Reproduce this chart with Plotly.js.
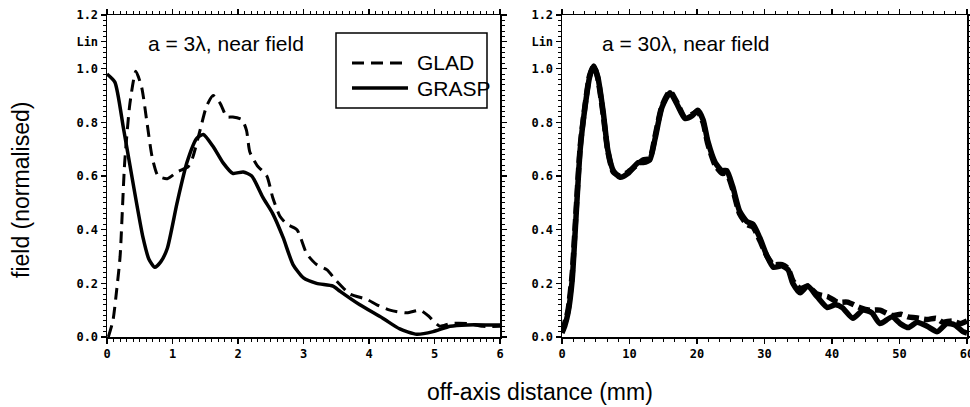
<!DOCTYPE html>
<html>
<head>
<meta charset="utf-8">
<script src="https://cdn.plot.ly/plotly-3.0.1.min.js"></script>
<style>html,body{margin:0;padding:0;background:#fff;}#chart{width:970px;height:407px;}</style>
</head>
<body>
<div id="chart"></div>
<script>
// ---- Left panel: a = 3 lambda, near field ----
const leftGraspX = [0, 0.12, 0.25, 0.40, 0.55, 0.64, 0.73, 0.82, 0.92, 1.07, 1.22, 1.37, 1.47, 1.62, 1.77, 1.92, 2.08, 2.21, 2.38, 2.53, 2.69, 2.84, 3.0, 3.2, 3.45, 3.56, 3.86, 4.21, 4.47, 4.73, 4.98, 5.24, 5.5, 5.85, 6.0];
const leftGraspY = [0.98, 0.95, 0.78, 0.57, 0.37, 0.29, 0.26, 0.28, 0.33, 0.50, 0.65, 0.74, 0.755, 0.71, 0.65, 0.61, 0.615, 0.60, 0.52, 0.46, 0.37, 0.27, 0.22, 0.20, 0.19, 0.17, 0.12, 0.07, 0.03, 0.01, 0.02, 0.04, 0.045, 0.045, 0.045];

const leftGladX = [0.02, 0.09, 0.15, 0.20, 0.27, 0.35, 0.44, 0.53, 0.61, 0.69, 0.78, 0.92, 1.07, 1.24, 1.31, 1.42, 1.52, 1.62, 1.73, 1.83, 1.92, 2.06, 2.13, 2.18, 2.29, 2.44, 2.53, 2.64, 2.75, 2.90, 3.05, 3.2, 3.36, 3.5, 3.71, 3.97, 4.12, 4.32, 4.58, 4.78, 4.90, 5.08, 5.24, 5.5, 5.74, 6.0];
const leftGladY = [0.0, 0.06, 0.18, 0.30, 0.65, 0.87, 0.99, 0.93, 0.80, 0.67, 0.60, 0.59, 0.615, 0.635, 0.67, 0.77, 0.86, 0.90, 0.87, 0.82, 0.82, 0.81, 0.77, 0.69, 0.64, 0.60, 0.52, 0.45, 0.42, 0.40, 0.31, 0.27, 0.25, 0.21, 0.16, 0.14, 0.12, 0.10, 0.09, 0.10, 0.08, 0.04, 0.05, 0.05, 0.04, 0.04];

// ---- Right panel: a = 30 lambda, near field ----
const rightGraspX = [0, 0.4, 0.9, 1.5, 1.9, 2.7, 3.4, 4.1, 4.7, 5.3, 6.1, 6.8, 7.6, 8.6, 9.8, 11.3, 12.0, 13.0, 13.8, 14.8, 16.0, 17.0, 18.2, 19.3, 20.1, 20.9, 21.6, 22.7, 23.7, 24.4, 25.3, 26.3, 27.4, 28.3, 29.3, 30.4, 31.3, 32.6, 33.5, 34.2, 35.3, 36.4, 37.8, 39.3, 40.5, 41.5, 43.1, 44.6, 45.9, 47.1, 48.9, 50.1, 51.3, 52.6, 54.1, 55.6, 57.0, 58.2, 59.4, 60];
const rightGraspY = [0.015, 0.04, 0.09, 0.21, 0.37, 0.70, 0.855, 0.97, 1.01, 0.97, 0.84, 0.695, 0.62, 0.595, 0.61, 0.65, 0.65, 0.66, 0.74, 0.855, 0.91, 0.87, 0.815, 0.825, 0.845, 0.81, 0.73, 0.65, 0.62, 0.62, 0.56, 0.47, 0.43, 0.42, 0.37, 0.30, 0.26, 0.265, 0.25, 0.20, 0.165, 0.19, 0.15, 0.11, 0.12, 0.11, 0.07, 0.10, 0.09, 0.05, 0.075, 0.05, 0.035, 0.055, 0.04, 0.02, 0.05, 0.045, 0.02, 0.015];

const rightGladX = [0, 0.4, 0.9, 1.5, 1.9, 2.7, 3.4, 4.1, 4.7, 5.3, 6.1, 6.8, 7.6, 8.6, 9.8, 11.3, 12.0, 13.0, 13.8, 14.8, 16.0, 17.0, 18.2, 19.3, 20.1, 20.9, 21.6, 22.7, 23.7, 24.4, 25.3, 26.3, 27.4, 28.3, 29.3, 30.4, 31.3, 32.6, 33.5, 34.2, 35.3, 36.4, 37.8, 39.4, 40.8, 42.3, 44.1, 45.6, 47.1, 48.9, 50.2, 51.3, 52.8, 54.1, 55.4, 56.4, 57.8, 59.0, 60];
const rightGladY = [0.02, 0.05, 0.10, 0.23, 0.39, 0.71, 0.86, 0.975, 1.01, 0.965, 0.83, 0.69, 0.615, 0.60, 0.615, 0.645, 0.66, 0.665, 0.75, 0.86, 0.915, 0.875, 0.82, 0.83, 0.84, 0.80, 0.72, 0.64, 0.61, 0.61, 0.55, 0.46, 0.42, 0.41, 0.36, 0.30, 0.27, 0.27, 0.255, 0.21, 0.18, 0.19, 0.16, 0.15, 0.13, 0.13, 0.11, 0.10, 0.10, 0.08, 0.085, 0.075, 0.07, 0.065, 0.07, 0.055, 0.06, 0.05, 0.06];

const yTickVals = [0, 0.2, 0.4, 0.6, 0.8, 1.0, 1.1, 1.2];
const yTickText = ['0.0', '0.2', '0.4', '0.6', '0.8', '1.0', 'Lin', '1.2'];
const leftXTicks = [0, 1, 2, 3, 4, 5, 6];
const rightXTicks = [0, 10, 20, 30, 40, 50, 60];
const legendNames = ['GLAD', 'GRASP'];

const tickFont = {family: 'DejaVu Sans Mono', size: 12, color: '#000', weight: 'bold'};
const textFont = {family: 'Liberation Sans, Arial', size: 21, color: '#000'};
const titleFont = {family: 'Liberation Sans, Arial', size: 23, color: '#000'};

function axisBase() {
  return {
    showgrid: false, zeroline: false, showline: true, linecolor: '#000', linewidth: 1.5,
    mirror: 'allticks', ticks: 'outside', ticklen: 5, tickwidth: 1.2, tickcolor: '#000',
    tickfont: tickFont, fixedrange: true, ticklabeloverflow: 'allow'
  };
}

const traces = [
  {x: leftGladX, y: leftGladY, xaxis: 'x', yaxis: 'y', mode: 'lines', name: legendNames[0],
   line: {color: '#000', width: 3, dash: '12px,7px', shape: 'spline', smoothing: 0.6}, showlegend: false},
  {x: leftGraspX, y: leftGraspY, xaxis: 'x', yaxis: 'y', mode: 'lines', name: legendNames[1],
   line: {color: '#000', width: 3.5, shape: 'spline', smoothing: 0.6}, showlegend: false},
  {x: rightGladX, y: rightGladY, xaxis: 'x2', yaxis: 'y2', mode: 'lines', name: legendNames[0],
   line: {color: '#000', width: 5.5, dash: '12px,5px', shape: 'spline', smoothing: 0.6}, showlegend: false},
  {x: rightGraspX, y: rightGraspY, xaxis: 'x2', yaxis: 'y2', mode: 'lines', name: legendNames[1],
   line: {color: '#000', width: 5.5, shape: 'spline', smoothing: 0.6}, showlegend: false}
];

const W = 970, TOP = 15, BOT = 337;
const py = p => (BOT - p) / (BOT - TOP);
const px = p => p / W;

const layout = {
  width: 970, height: 407,
  margin: {l: 0, r: 0, t: TOP, b: 407 - BOT},
  paper_bgcolor: '#fff', plot_bgcolor: '#fff',
  showlegend: false,
  xaxis: Object.assign(axisBase(), {domain: [px(107), px(500)], range: [0, 6],
    tickmode: 'array', tickvals: leftXTicks, ticktext: leftXTicks.map(String),
    minor: {dtick: 0.1, tick0: 0, ticklen: 3, tickwidth: 1, tickcolor: '#000', ticks: 'outside'}}),
  yaxis: Object.assign(axisBase(), {domain: [0, 1], range: [0, 1.2], anchor: 'x',
    tickmode: 'array', tickvals: yTickVals, ticktext: yTickText,
    minor: {dtick: 0.02, tick0: 0, ticklen: 3, tickwidth: 1, tickcolor: '#000', ticks: 'outside'}}),
  xaxis2: Object.assign(axisBase(), {domain: [px(562), px(967)], range: [0, 60], anchor: 'y2',
    tickmode: 'array', tickvals: rightXTicks, ticktext: rightXTicks.map(String),
    minor: {dtick: 10 / 6, tick0: 0, ticklen: 3, tickwidth: 1, tickcolor: '#000', ticks: 'outside'}}),
  yaxis2: Object.assign(axisBase(), {domain: [0, 1], range: [0, 1.2], anchor: 'x2',
    tickmode: 'array', tickvals: yTickVals, ticktext: yTickText,
    minor: {dtick: 0.02, tick0: 0, ticklen: 3, tickwidth: 1, tickcolor: '#000', ticks: 'outside'}}),
  shapes: [
    {type: 'rect', xref: 'paper', yref: 'paper', x0: px(336), x1: px(487), y0: py(108), y1: py(33),
     line: {color: '#000', width: 1.5}, fillcolor: 'rgba(0,0,0,0)'},
    {type: 'line', xref: 'paper', yref: 'paper', x0: px(352), x1: px(408), y0: py(63), y1: py(63),
     line: {color: '#000', width: 3, dash: '12px,7px'}},
    {type: 'line', xref: 'paper', yref: 'paper', x0: px(352), x1: px(408), y0: py(88), y1: py(88),
     line: {color: '#000', width: 3.5}}
  ],
  annotations: [
    {xref: 'paper', yref: 'paper', x: px(415), y: py(63), xanchor: 'left', yanchor: 'middle',
     text: legendNames[0], showarrow: false, font: textFont},
    {xref: 'paper', yref: 'paper', x: px(415), y: py(88), xanchor: 'left', yanchor: 'middle',
     text: legendNames[1], showarrow: false, font: textFont},
    {xref: 'paper', yref: 'paper', x: px(146), y: py(43), xanchor: 'left', yanchor: 'middle',
     text: 'a = 3λ, near field', showarrow: false, font: textFont},
    {xref: 'paper', yref: 'paper', x: px(600), y: py(43), xanchor: 'left', yanchor: 'middle',
     text: 'a = 30λ, near field', showarrow: false, font: textFont},
    {xref: 'paper', yref: 'paper', x: px(21), y: py(190), xanchor: 'center', yanchor: 'middle',
     text: 'field (normalised)', textangle: -90, showarrow: false, font: titleFont},
    {xref: 'paper', yref: 'paper', x: px(540), y: py(392), xanchor: 'center', yanchor: 'middle',
     text: 'off-axis distance (mm)', showarrow: false, font: titleFont}
  ]
};

Plotly.newPlot('chart', traces, layout, {staticPlot: true, displayModeBar: false});
</script>
</body>
</html>
